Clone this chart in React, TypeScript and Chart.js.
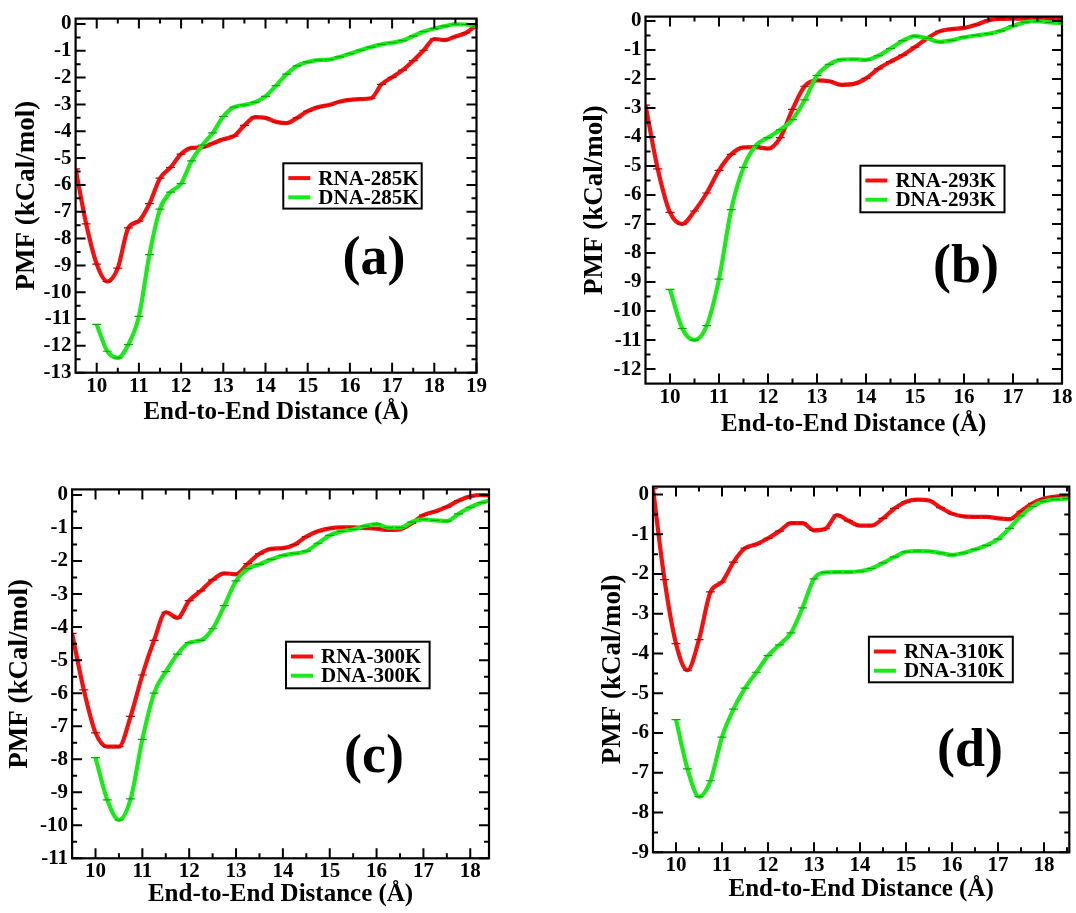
import React, { useEffect, useRef } from "react";
import { Chart, registerables } from "chart.js";

Chart.register(...registerables);

const SERIF = "'Liberation Serif', 'Times New Roman', Times, serif";
const RED = "rgb(245,15,15)";
const RED_CAP = "rgb(200,0,0)";
const GREEN = "rgb(25,235,25)";
const GREEN_CAP = "rgb(0,175,0)";

// ---- (a) 285 K ----
const distA = [9.5, 9.75, 10, 10.25, 10.5, 10.75, 11, 11.25, 11.5, 11.75, 12, 12.25, 12.5, 12.75, 13, 13.25, 13.5, 13.75, 14, 14.25, 14.5, 14.75, 15, 15.25, 15.5, 15.75, 16, 16.25, 16.5, 16.75, 17, 17.25, 17.5, 17.75, 18, 18.25, 18.5, 18.75, 19];
const rnaA = [-5.4, -7.45, -8.95, -9.6, -9.1, -7.6, -7.35, -6.7, -5.75, -5.35, -4.85, -4.62, -4.6, -4.45, -4.3, -4.18, -3.78, -3.47, -3.5, -3.65, -3.7, -3.5, -3.25, -3.1, -3.02, -2.9, -2.83, -2.8, -2.77, -2.25, -1.99, -1.72, -1.37, -0.98, -0.56, -0.6, -0.47, -0.33, -0.05];
const dnaA = [null, null, -11.2, -12.2, -12.45, -11.95, -10.9, -8.6, -6.9, -6.27, -5.95, -5.1, -4.52, -4.06, -3.45, -3.1, -3.02, -2.92, -2.7, -2.3, -1.87, -1.56, -1.42, -1.35, -1.33, -1.23, -1.11, -0.98, -0.86, -0.76, -0.7, -0.62, -0.45, -0.28, -0.17, -0.08, -0.01, -0.02, -0.08];
const xTicksA = [10, 11, 12, 13, 14, 15, 16, 17, 18, 19];
const yTicksA = [0, -1, -2, -3, -4, -5, -6, -7, -8, -9, -10, -11, -12, -13];

// ---- (b) 293 K ----
const distB = [9.5, 9.75, 10, 10.25, 10.5, 10.75, 11, 11.25, 11.5, 11.75, 12, 12.25, 12.5, 12.75, 13, 13.25, 13.5, 13.75, 14, 14.25, 14.5, 14.75, 15, 15.25, 15.5, 15.75, 16, 16.25, 16.5, 16.75, 17, 17.25, 17.5, 17.75, 18];
const rnaB = [-2.9, -5.1, -6.6, -7.0, -6.55, -5.93, -5.15, -4.6, -4.36, -4.35, -4.4, -4.02, -3.05, -2.25, -2.05, -2.08, -2.2, -2.17, -1.98, -1.65, -1.4, -1.18, -0.9, -0.6, -0.36, -0.28, -0.24, -0.13, 0.02, 0.07, 0.08, 0.08, 0.08, 0.07, 0.06];
const dnaB = [null, null, -9.25, -10.6, -11.0, -10.5, -8.9, -6.5, -5.05, -4.3, -4.02, -3.75, -3.4, -2.72, -1.88, -1.5, -1.33, -1.32, -1.34, -1.2, -0.95, -0.68, -0.52, -0.6, -0.72, -0.67, -0.56, -0.5, -0.44, -0.34, -0.17, -0.04, -0.01, -0.05, -0.08];
const xTicksB = [10, 11, 12, 13, 14, 15, 16, 17, 18];
const yTicksB = [0, -1, -2, -3, -4, -5, -6, -7, -8, -9, -10, -11, -12];

// ---- (c) 300 K ----
const distC = [9.5, 9.75, 10, 10.25, 10.5, 10.75, 11, 11.25, 11.5, 11.75, 12, 12.25, 12.5, 12.75, 13, 13.25, 13.5, 13.75, 14, 14.25, 14.5, 14.75, 15, 15.25, 15.5, 15.75, 16, 16.25, 16.5, 16.75, 17, 17.25, 17.5, 17.75, 18, 18.25, 18.5];
const rnaC = [-4.19, -5.9, -7.2, -7.62, -7.62, -6.7, -5.45, -4.4, -3.55, -3.72, -3.2, -2.9, -2.57, -2.37, -2.4, -2.08, -1.78, -1.63, -1.61, -1.5, -1.26, -1.1, -1.01, -0.98, -0.98, -1.0, -1.02, -1.06, -1.04, -0.86, -0.61, -0.5, -0.36, -0.17, -0.04, 0.0, -0.02];
const dnaC = [null, null, -7.95, -9.23, -9.84, -9.2, -7.4, -6.0, -5.35, -4.82, -4.47, -4.4, -4.05, -3.35, -2.6, -2.23, -2.1, -1.95, -1.83, -1.77, -1.7, -1.46, -1.22, -1.1, -1.04, -0.94, -0.88, -0.99, -0.99, -0.82, -0.74, -0.77, -0.79, -0.57, -0.37, -0.23, -0.13];
const xTicksC = [10, 11, 12, 13, 14, 15, 16, 17, 18];
const yTicksC = [0, -1, -2, -3, -4, -5, -6, -7, -8, -9, -10, -11];

// ---- (d) 310 K ----
const distD = [9.5, 9.75, 10, 10.25, 10.5, 10.75, 11, 11.25, 11.5, 11.75, 12, 12.25, 12.5, 12.75, 13, 13.25, 13.5, 13.75, 14, 14.25, 14.5, 14.75, 15, 15.25, 15.5, 15.75, 16, 16.25, 16.5, 16.75, 17, 17.25, 17.5, 17.75, 18, 18.25, 18.5, 18.75];
const rnaD = [0.15, -2.14, -3.75, -4.42, -3.65, -2.45, -2.2, -1.7, -1.35, -1.25, -1.1, -0.92, -0.72, -0.72, -0.9, -0.86, -0.52, -0.66, -0.78, -0.78, -0.6, -0.35, -0.18, -0.13, -0.15, -0.33, -0.48, -0.55, -0.56, -0.56, -0.6, -0.62, -0.42, -0.22, -0.1, -0.05, -0.04, -0.04];
const dnaD = [null, null, -5.66, -6.9, -7.6, -7.2, -6.1, -5.4, -4.87, -4.47, -4.05, -3.78, -3.48, -2.85, -2.12, -1.96, -1.95, -1.95, -1.93, -1.86, -1.72, -1.57, -1.44, -1.42, -1.43, -1.47, -1.52, -1.47, -1.38, -1.28, -1.12, -0.85, -0.54, -0.3, -0.17, -0.12, -0.1, -0.1];
const xTicksD = [10, 11, 12, 13, 14, 15, 16, 17, 18];
const yTicksD = [0, -1, -2, -3, -4, -5, -6, -7, -8, -9];

type Box = [number, number, number, number];

interface PanelSpec {
  tag: string;
  rnaName: string;
  dnaName: string;
  dist: number[];
  rna: (number | null)[];
  dna: (number | null)[];
  xTicks: number[];
  yTicks: number[];
  xRange: [number, number];
  yRange: [number, number];
  canvas: Box; // left, top, width, height (page px)
  plot: Box; // left, top, right, bottom (page px)
  legend: Box; // left, top, right, bottom (page px)
  tagAt: [number, number]; // centre of the panel tag (page px)
}

const panels: PanelSpec[] = [
  {
    tag: "(a)", rnaName: "RNA-285K", dnaName: "DNA-285K",
    dist: distA, rna: rnaA, dna: dnaA, xTicks: xTicksA, yTicks: yTicksA,
    xRange: [9.5, 19], yRange: [-13, 0.2],
    canvas: [12, 2, 528, 426], plot: [75.6, 17.1, 476.5, 372.7],
    legend: [283.3, 163.3, 421.7, 208.6], tagAt: [374, 260],
  },
  {
    tag: "(b)", rnaName: "RNA-293K", dnaName: "DNA-293K",
    dist: distB, rna: rnaB, dna: dnaB, xTicks: xTicksB, yTicks: yTicksB,
    xRange: [9.5, 18], yRange: [-12.5, 0.15],
    canvas: [580, 0, 496, 440], plot: [645.5, 13.9, 1062, 383.6],
    legend: [860.4, 165.7, 1004.5, 212.3], tagAt: [966, 268],
  },
  {
    tag: "(c)", rnaName: "RNA-300K", dnaName: "DNA-300K",
    dist: distC, rna: rnaC, dna: dnaC, xTicks: xTicksC, yTicks: yTicksC,
    xRange: [9.5, 18.4], yRange: [-11, 0.17],
    canvas: [5, 470, 535, 440], plot: [72.1, 489.4, 489, 858.3],
    legend: [286, 641.7, 429.6, 688.3], tagAt: [374, 757.5],
  },
  {
    tag: "(d)", rnaName: "RNA-310K", dnaName: "DNA-310K",
    dist: distD, rna: rnaD, dna: dnaD, xTicks: xTicksD, yTicks: yTicksD,
    xRange: [9.5, 18.55], yRange: [-9, 0.2],
    canvas: [598, 470, 478, 435], plot: [653, 482.7, 1069.3, 852.3],
    legend: [868.9, 636.7, 1012.8, 682.3], tagAt: [970, 751.5],
  },
];

const toPoints = (xs: number[], ys: (number | null)[]) =>
  xs.map((x, i) => ({ x, y: ys[i] })).filter((p) => p.y !== null) as { x: number; y: number }[];

// half-unit minor ticks between (and just outside) the labelled majors
const minorsOf = (majors: number[], lo: number, hi: number) => {
  const out: number[] = [];
  majors.forEach((m) => {
    [m - 0.5, m + 0.5].forEach((v) => {
      if (v > lo && v < hi && !out.includes(v)) out.push(v);
    });
  });
  return out;
};

function makeDecor(spec: PanelSpec) {
  const [cl, ct] = spec.canvas;
  return {
    id: "xmgraceDecor",
    afterDraw(chart: any) {
      const { ctx, chartArea: a } = chart;
      const sx = chart.scales.x;
      const sy = chart.scales.y;
      ctx.save();
      ctx.strokeStyle = "#000";
      ctx.lineCap = "butt";

      // inward tick marks on all four sides
      const major = 10;
      const minor = 5;
      ctx.lineWidth = 2;
      ctx.beginPath();
      const xMin = minorsOf(spec.xTicks, spec.xRange[0], spec.xRange[1]);
      const yMin = minorsOf(spec.yTicks, spec.yRange[0], spec.yRange[1]);
      const vTick = (v: number, len: number) => {
        const px = sx.getPixelForValue(v);
        ctx.moveTo(px, a.bottom);
        ctx.lineTo(px, a.bottom - len);
        ctx.moveTo(px, a.top);
        ctx.lineTo(px, a.top + len);
      };
      const hTick = (v: number, len: number) => {
        const py = sy.getPixelForValue(v);
        ctx.moveTo(a.left, py);
        ctx.lineTo(a.left + len, py);
        ctx.moveTo(a.right, py);
        ctx.lineTo(a.right - len, py);
      };
      spec.xTicks.forEach((v) => vTick(v, major));
      xMin.forEach((v) => vTick(v, minor));
      spec.yTicks.forEach((v) => hTick(v, major));
      yMin.forEach((v) => hTick(v, minor));
      ctx.stroke();

      // frame
      ctx.lineWidth = 2.2;
      ctx.strokeRect(a.left, a.top, a.right - a.left, a.bottom - a.top);

      // legend box
      const [ll, lt, lr, lb] = spec.legend;
      const bx = ll - cl;
      const by = lt - ct;
      const bw = lr - ll;
      const bh = lb - lt;
      ctx.fillStyle = "#fff";
      ctx.fillRect(bx, by, bw, bh);
      ctx.lineWidth = 2;
      ctx.strokeStyle = "#000";
      ctx.strokeRect(bx, by, bw, bh);
      const rows = [
        { name: chart.data.datasets[1].label, color: RED, y: by + 14.8 },
        { name: chart.data.datasets[0].label, color: GREEN, y: by + 34 },
      ];
      ctx.font = `bold 21px ${SERIF}`;
      ctx.textBaseline = "middle";
      ctx.textAlign = "left";
      rows.forEach((r) => {
        ctx.strokeStyle = r.color;
        ctx.lineWidth = 4;
        ctx.beginPath();
        ctx.moveTo(bx + 5, r.y);
        ctx.lineTo(bx + 27, r.y);
        ctx.stroke();
        ctx.fillStyle = "#000";
        ctx.fillText(r.name, bx + 35, r.y + 1);
      });

      // panel tag
      ctx.font = `bold 54px ${SERIF}`;
      ctx.textAlign = "center";
      ctx.textBaseline = "alphabetic";
      ctx.fillStyle = "#000";
      ctx.fillText(spec.tag, spec.tagAt[0] - cl, spec.tagAt[1] - ct + 14);
      ctx.restore();
    },
  };
}

function buildConfig(spec: PanelSpec): any {
  const [cl, ct, cw, ch] = spec.canvas;
  const [pl, pt, pr, pb] = spec.plot;
  const yScaleW = pl - cl;
  const xScaleH = ct + ch - pb;
  const tickFont = { family: SERIF, size: 21, weight: "bold" as const };
  const xTitleFont = { family: SERIF, size: 25, weight: "bold" as const, lineHeight: "30px" };
  const yTitleFont = { family: SERIF, size: 27, weight: "bold" as const, lineHeight: "30px" };
  const common = {
    borderWidth: 4.2,
    pointStyle: "line",
    pointRadius: 4.5,
    pointBorderWidth: 1.2,
    pointHoverRadius: 0,
    cubicInterpolationMode: "monotone",
    fill: false,
  };
  return {
    type: "line",
    data: {
      datasets: [
        {
          ...common,
          label: spec.dnaName,
          data: toPoints(spec.dist, spec.dna),
          borderColor: GREEN,
          pointBorderColor: GREEN_CAP,
          pointBackgroundColor: GREEN_CAP,
          order: 0,
        },
        {
          ...common,
          label: spec.rnaName,
          data: toPoints(spec.dist, spec.rna),
          borderColor: RED,
          pointBorderColor: RED_CAP,
          pointBackgroundColor: RED_CAP,
          order: 1,
        },
      ],
    },
    options: {
      responsive: false,
      animation: false,
      devicePixelRatio: 1,
      events: [],
      layout: {
        padding: { left: 0, top: pt - ct, right: cl + cw - pr, bottom: 0 },
      },
      plugins: {
        legend: { display: false },
        tooltip: { enabled: false },
      },
      scales: {
        x: {
          type: "linear",
          min: spec.xRange[0],
          max: spec.xRange[1],
          afterBuildTicks: (s: any) => {
            s.ticks = spec.xTicks.map((value) => ({ value }));
          },
          afterFit: (s: any) => {
            s.height = xScaleH;
          },
          grid: { display: false, drawTicks: false },
          border: { display: false },
          ticks: {
            font: tickFont,
            color: "#000",
            padding: 1,
            maxRotation: 0,
            autoSkip: false,
            callback: (v: number) => String(v),
          },
          title: {
            display: true,
            text: "End-to-End Distance (Å)",
            font: xTitleFont,
            color: "#000",
            padding: 0,
          },
        },
        y: {
          type: "linear",
          min: spec.yRange[0],
          max: spec.yRange[1],
          afterBuildTicks: (s: any) => {
            s.ticks = spec.yTicks.map((value) => ({ value }));
          },
          afterFit: (s: any) => {
            s.width = yScaleW;
          },
          grid: { display: false, drawTicks: false },
          border: { display: false },
          ticks: {
            font: tickFont,
            color: "#000",
            padding: 4,
            autoSkip: false,
            callback: (v: number) => String(v),
          },
          title: {
            display: true,
            text: "PMF (kCal/mol)",
            font: yTitleFont,
            color: "#000",
            padding: 0,
          },
        },
      },
    },
    plugins: [makeDecor(spec)],
  };
}

function PmfPanel({ spec }: { spec: PanelSpec }) {
  const ref = useRef<HTMLCanvasElement>(null);
  useEffect(() => {
    const canvas = ref.current;
    if (!canvas) return;
    const chart = new Chart(canvas, buildConfig(spec));
    return () => chart.destroy();
  }, [spec]);
  const [l, t, w, h] = spec.canvas;
  return (
    <div style={{ position: "absolute", left: l, top: t, width: w, height: h }}>
      <canvas ref={ref} width={w} height={h} style={{ width: w, height: h, display: "block" }} />
    </div>
  );
}

export default function App() {
  return (
    <div
      style={{
        position: "absolute",
        left: 0,
        top: 0,
        width: 1076,
        height: 913,
        background: "#fff",
        overflow: "hidden",
      }}
    >
      {panels.map((p) => (
        <PmfPanel key={p.tag} spec={p} />
      ))}
    </div>
  );
}
